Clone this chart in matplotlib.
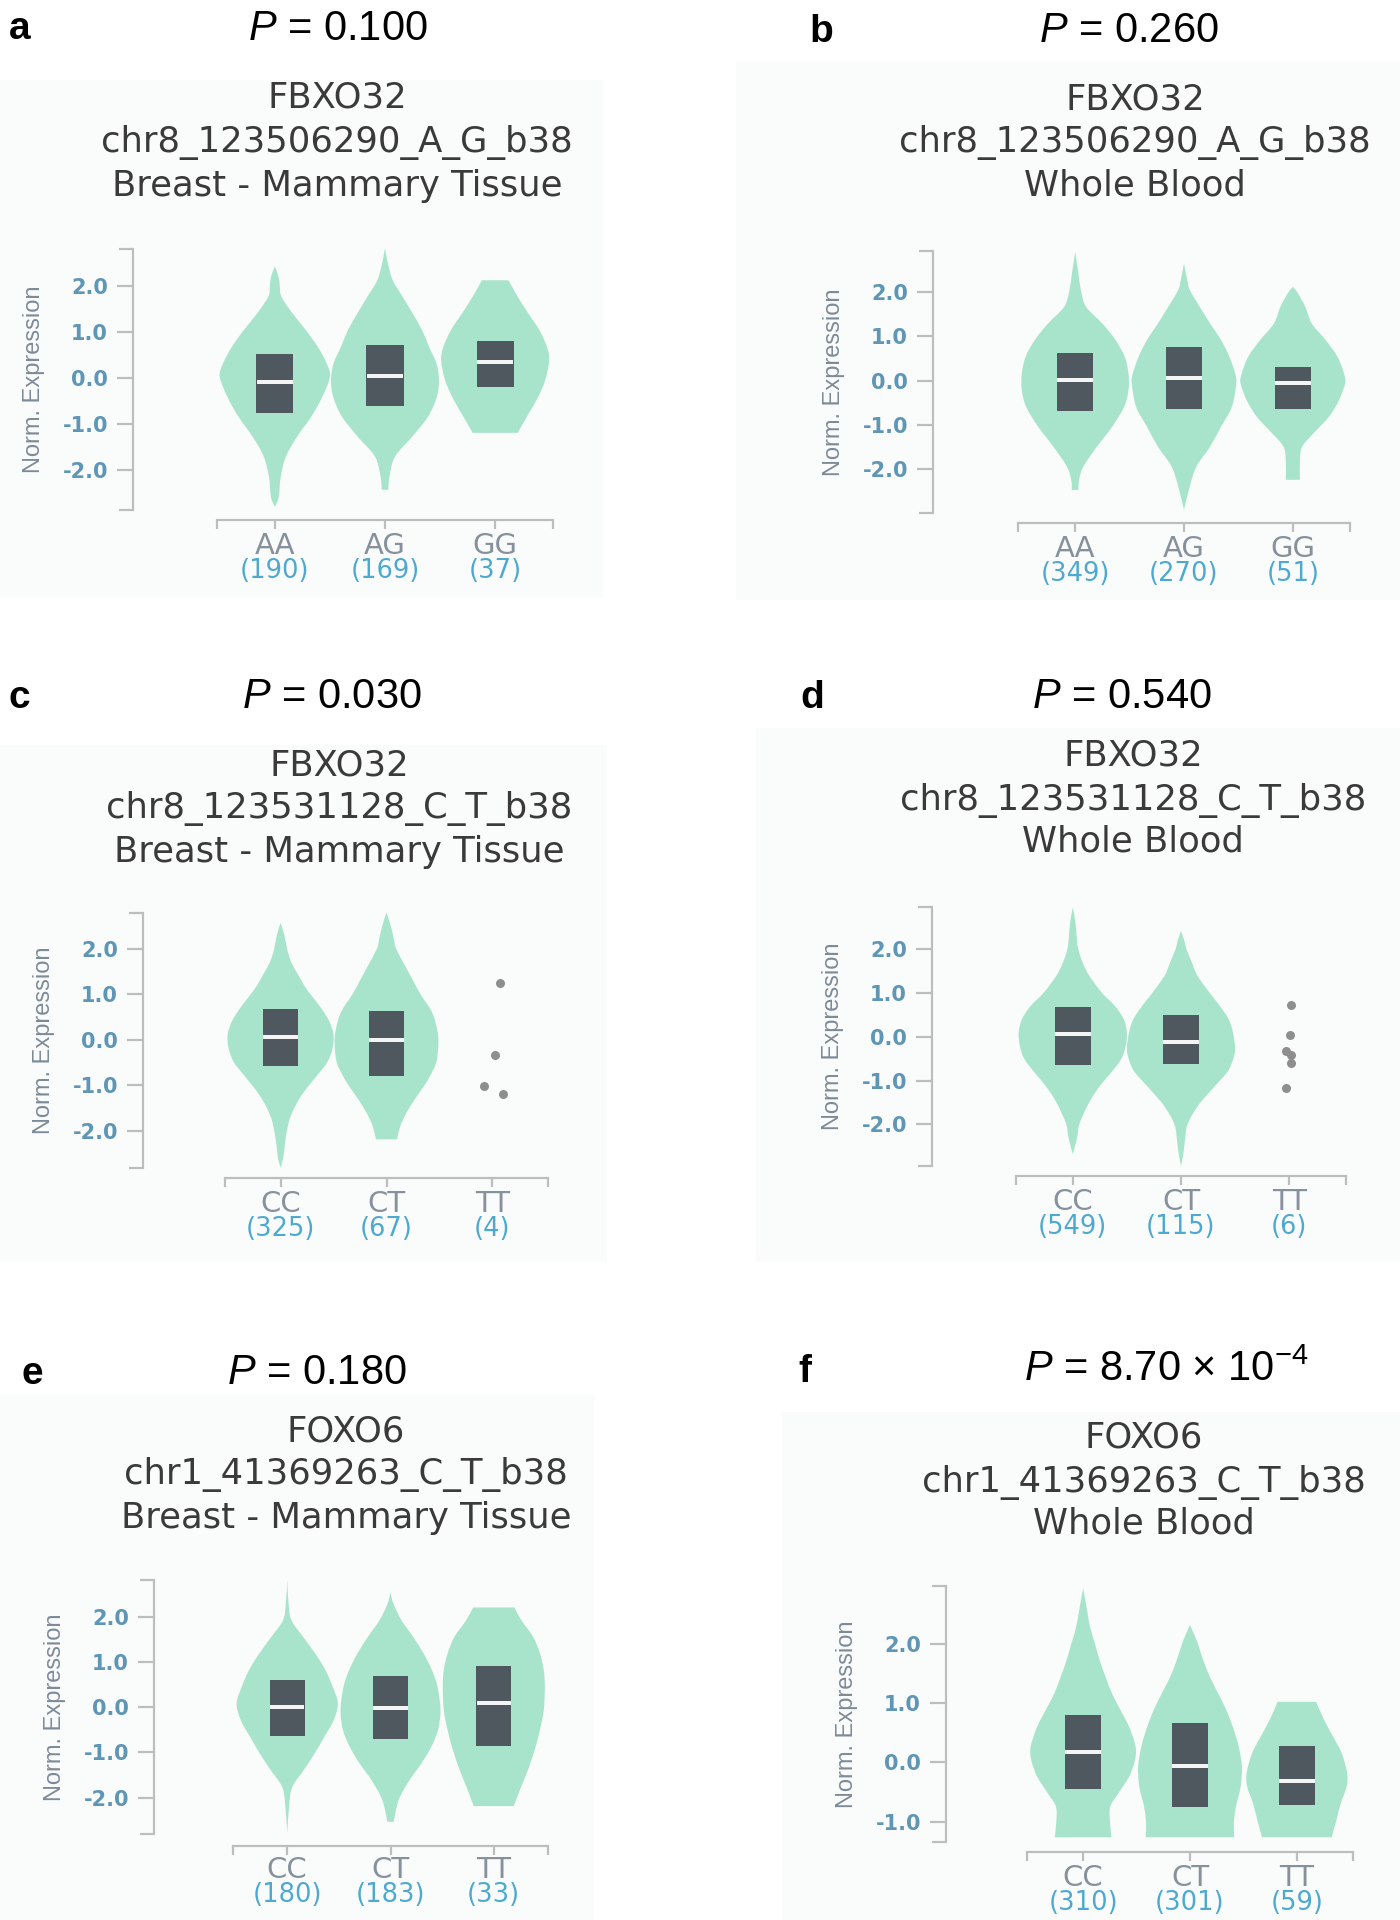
import matplotlib
matplotlib.use("Agg")
import matplotlib.pyplot as plt
from matplotlib.patches import Rectangle, PathPatch
from matplotlib.path import Path

# ---------------- values ----------------
panel_letters = ["a", "b", "c", "d", "e", "f"]
p_values = [r"$P$ = 0.100", r"$P$ = 0.260", r"$P$ = 0.030",
            r"$P$ = 0.540", r"$P$ = 0.180", r"$P$ = 8.70 × $10^{-4}$"]
genes = ["FBXO32", "FBXO32", "FBXO32", "FBXO32", "FOXO6", "FOXO6"]
variants = ["chr8_123506290_A_G_b38", "chr8_123506290_A_G_b38",
            "chr8_123531128_C_T_b38", "chr8_123531128_C_T_b38",
            "chr1_41369263_C_T_b38", "chr1_41369263_C_T_b38"]
tissues = ["Breast - Mammary Tissue", "Whole Blood"] * 3
genotypes = [["AA", "AG", "GG"], ["AA", "AG", "GG"], ["CC", "CT", "TT"],
             ["CC", "CT", "TT"], ["CC", "CT", "TT"], ["CC", "CT", "TT"]]
sample_counts = [[190, 169, 37], [349, 270, 51], [325, 67, 4],
                 [549, 115, 6], [180, 183, 33], [310, 301, 59]]

# box: lower quartile, median, upper quartile (None = no box drawn)
q1 = [[-0.755, -0.61, -0.20], [-0.68, -0.63, -0.63], [-0.59, -0.80, None],
      [-0.65, -0.63, None], [-0.63, -0.69, -0.85], [-0.45, -0.75, -0.71]]
med = [[-0.08, 0.05, 0.36], [0.01, 0.05, -0.05], [0.06, 0.00, None],
       [0.07, -0.11, None], [0.01, -0.02, 0.09], [0.17, -0.06, -0.31]]
q3 = [[0.52, 0.73, 0.81], [0.62, 0.75, 0.31], [0.68, 0.62, None],
      [0.68, 0.50, None], [0.62, 0.69, 0.92], [0.79, 0.66, 0.27]]

# violin outlines: (expression, half width in category units)
viol_a = [
    [(2.43, 0), (2.2, 0.035), (2.0, 0.045), (1.77, 0.06), (1.41, 0.16), (1.05, 0.28),
     (0.68, 0.39), (0.32, 0.47), (0.03, 0.5), (-0.41, 0.43), (-0.84, 0.33),
     (-1.28, 0.2), (-1.71, 0.1), (-2.15, 0.053), (-2.59, 0.035), (-2.8, 0)],
    [(2.83, 0), (2.5, 0.026), (2.13, 0.07), (1.77, 0.16), (1.41, 0.25), (1.05, 0.335),
     (0.68, 0.4), (0.32, 0.467), (-0.04, 0.49), (-0.41, 0.47), (-0.84, 0.39),
     (-1.28, 0.245), (-1.71, 0.09), (-2.15, 0.04), (-2.43, 0.03)],
    [(2.13, 0.12), (1.77, 0.205), (1.41, 0.3), (1.05, 0.4), (0.68, 0.47),
     (0.39, 0.49), (-0.04, 0.455), (-0.41, 0.39), (-0.77, 0.305), (-1.06, 0.235),
     (-1.19, 0.205)],
]
viol_b = [
    [(2.91, 0), (2.42, 0.03), (2.04, 0.053), (1.67, 0.1), (1.29, 0.25), (0.92, 0.37),
     (0.54, 0.455), (0.16, 0.49), (-0.21, 0.49), (-0.59, 0.45), (-1.04, 0.34),
     (-1.49, 0.2), (-1.94, 0.076), (-2.24, 0.036), (-2.47, 0.03)],
    [(2.65, 0), (2.27, 0.03), (2.05, 0.053), (1.67, 0.144), (1.29, 0.24), (0.92, 0.34),
     (0.54, 0.417), (0.16, 0.47), (-0.06, 0.48), (-0.59, 0.44), (-1.04, 0.34),
     (-1.49, 0.24), (-1.94, 0.114), (-2.39, 0.053), (-2.92, 0)],
    [(2.12, 0), (2.0, 0.04), (1.67, 0.114), (1.29, 0.174), (0.92, 0.3), (0.54, 0.41),
     (0.16, 0.47), (-0.06, 0.48), (-0.44, 0.424), (-0.81, 0.333), (-1.19, 0.19),
     (-1.49, 0.086), (-1.79, 0.065), (-2.24, 0.065)],
]
viol_c = [
    [(2.56, 0), (2.3, 0.035), (2.0, 0.06), (1.7, 0.1), (1.45, 0.16), (1.2, 0.22),
     (1.0, 0.28), (0.7, 0.38), (0.4, 0.46), (0.1, 0.5), (-0.2, 0.49), (-0.5, 0.44),
     (-0.8, 0.34), (-1.0, 0.27), (-1.25, 0.19), (-1.5, 0.13), (-1.75, 0.085),
     (-2.0, 0.06), (-2.3, 0.04), (-2.6, 0.025), (-2.81, 0)],
    [(2.79, 0), (2.5, 0.04), (2.2, 0.07), (2.0, 0.09), (1.6, 0.18), (1.3, 0.25),
     (1.0, 0.32), (0.6, 0.43), (0.2, 0.48), (-0.1, 0.49), (-0.5, 0.47), (-0.8, 0.41),
     (-1.0, 0.36), (-1.3, 0.27), (-1.6, 0.19), (-1.9, 0.13), (-2.19, 0.1)],
    None,
]
viol_d = [
    [(2.95, 0), (2.6, 0.025), (2.3, 0.035), (2.0, 0.05), (1.7, 0.09), (1.4, 0.15),
     (1.0, 0.27), (0.7, 0.39), (0.4, 0.47), (0.1, 0.5), (-0.2, 0.49), (-0.5, 0.45),
     (-0.8, 0.36), (-1.0, 0.29), (-1.3, 0.2), (-1.6, 0.13), (-2.0, 0.06),
     (-2.3, 0.04), (-2.68, 0)],
    [(2.41, 0), (2.2, 0.03), (2.0, 0.05), (1.7, 0.1), (1.4, 0.15), (1.0, 0.265),
     (0.7, 0.36), (0.4, 0.44), (0.1, 0.48), (-0.3, 0.5), (-0.6, 0.47), (-0.8, 0.43),
     (-1.0, 0.36), (-1.3, 0.25), (-1.6, 0.15), (-2.0, 0.06), (-2.4, 0.035),
     (-2.7, 0.02), (-2.95, 0)],
    None,
]
viol_e = [
    [(2.82, 0), (2.31, 0.013), (1.94, 0.04), (1.57, 0.153), (1.2, 0.27), (0.83, 0.37),
     (0.46, 0.44), (0.09, 0.49), (-0.28, 0.45), (-0.65, 0.36), (-1.02, 0.266),
     (-1.39, 0.16), (-1.76, 0.05), (-2.13, 0.02), (-2.79, 0)],
    [(2.56, 0), (2.31, 0.027), (1.94, 0.105), (1.57, 0.218), (1.2, 0.32), (0.83, 0.4),
     (0.46, 0.455), (-0.06, 0.484), (-0.5, 0.46), (-0.87, 0.395), (-1.24, 0.3),
     (-1.61, 0.185), (-2.05, 0.08), (-2.54, 0.03)],
    [(2.22, 0.2), (1.94, 0.266), (1.57, 0.38), (1.2, 0.447), (0.83, 0.484),
     (0.46, 0.494), (-0.06, 0.484), (-0.5, 0.447), (-0.95, 0.395), (-1.39, 0.33),
     (-1.83, 0.253), (-2.19, 0.194)],
]
viol_f = [
    [(2.93, 0), (2.56, 0.037), (2.28, 0.065), (2.0, 0.11), (1.72, 0.155), (1.44, 0.21),
     (1.16, 0.27), (0.88, 0.35), (0.6, 0.43), (0.27, 0.49), (0.04, 0.485),
     (-0.24, 0.43), (-0.52, 0.33), (-0.74, 0.255), (-0.97, 0.25), (-1.26, 0.265)],
    [(2.31, 0), (2.15, 0.04), (2.0, 0.073), (1.72, 0.124), (1.44, 0.186), (1.16, 0.264),
     (0.88, 0.34), (0.6, 0.4), (0.27, 0.455), (-0.07, 0.485), (-0.41, 0.474),
     (-0.74, 0.43), (-1.02, 0.41), (-1.26, 0.415)],
    [(1.02, 0.18), (0.71, 0.256), (0.43, 0.34), (0.15, 0.42), (-0.18, 0.47),
     (-0.41, 0.465), (-0.69, 0.41), (-0.97, 0.37), (-1.26, 0.326)],
]
violins = [viol_a, viol_b, viol_c, viol_d, viol_e, viol_f]

# single samples shown as dots (TT groups of panels c and d)
pts_c_y = [1.25, -0.34, -1.02, -1.2]
pts_c_dx = [0.07, 0.02, -0.08, 0.1]
pts_d_y = [0.73, 0.05, -0.33, -0.42, -0.6, -1.16]
pts_d_dx = [0.02, 0.01, -0.03, 0.02, 0.02, -0.03]
dots = [None, None, (pts_c_dx, pts_c_y), (pts_d_dx, pts_d_y), None, None]

y_ticks = [[-2, -1, 0, 1, 2]] * 5 + [[-1, 0, 1, 2]]
y_lims = [(-2.87, 2.81), (-2.99, 2.93), (-2.82, 2.78),
          (-2.95, 2.96), (-2.81, 2.83), (-1.34, 2.97)]

# ---------------- layout (pixels of the 1400x1920 canvas) ----------------
W, H = 1400, 1920
PT = 72 / 100.0          # points per pixel at dpi 100
# x-axis left end, right end, plot top, plot bottom, y-spine x, x-axis y
boxes = [(217, 553, 249, 510, 133, 520), (1018, 1350, 251, 513, 933, 523),
         (225, 548, 913, 1168, 143, 1178), (1016, 1346, 907, 1166, 932, 1176),
         (233, 548, 1580, 1834, 154, 1846), (1027, 1353, 1586, 1842, 946, 1852)]
backs = [(0, 80, 603, 598), (736, 62, 1400, 600), (0, 745, 607, 1262),
         (756, 728, 1400, 1262), (0, 1394, 594, 1920), (782, 1412, 1400, 1920)]
letter_xy = [(20, 29), (821, 32), (19, 698), (812, 698), (32, 1374), (805, 1372)]
pval_xy = [(338, 29), (1129, 31), (332, 697), (1122, 697), (317, 1373), (1166, 1370)]
title_x = [337, 1135, 339, 1133, 346, 1144]
title_y = [(97, 142, 186), (99, 142, 186), (765, 808, 852),
           (755, 800, 842), (1432, 1475, 1518), (1438, 1482, 1523)]

VIOLIN = "#a7e4cb"
BOX = "#4f585e"
AXIS = "#bdbdbd"
TICKTXT = "#5f96b6"
BG = "#fafbfb"

plt.rcParams["font.family"] = "DejaVu Sans"
plt.rcParams["mathtext.fontset"] = "custom"
plt.rcParams["mathtext.it"] = "Liberation Sans:italic"
plt.rcParams["mathtext.rm"] = "Liberation Sans"

fig = plt.figure(figsize=(W / 100, H / 100), dpi=100)


def fx(px):
    return px / W


def fy(py):
    return 1 - py / H


def curve(pts):
    # Catmull-Rom through the outline points, as cubic Bezier pieces
    out = []
    n = len(pts)
    for j in range(n - 1):
        p0 = pts[j - 1] if j > 0 else pts[j]
        p1, p2 = pts[j], pts[j + 1]
        p3 = pts[j + 2] if j + 2 < n else pts[j + 1]
        out.append((p1[0] + (p2[0] - p0[0]) / 6, p1[1] + (p2[1] - p0[1]) / 6))
        out.append((p2[0] - (p3[0] - p1[0]) / 6, p2[1] - (p3[1] - p1[1]) / 6))
        out.append(p2)
    return out


def violin_path(i, prof):
    right = [(i + w, y) for y, w in prof]
    left = [(i - w, y) for y, w in reversed(prof)]
    n = len(prof)
    verts = [right[0]] + curve(right) + [left[0]] + curve(left) + [right[0]]
    codes = ([Path.MOVETO] + [Path.CURVE4] * 3 * (n - 1) + [Path.LINETO]
             + [Path.CURVE4] * 3 * (n - 1) + [Path.CLOSEPOLY])
    return Path(verts, codes)


for k in range(6):
    x0, x1, ytop, ybot, yspine, xaxis = boxes[k]
    bx0, by0, bx1, by1 = backs[k]
    fig.patches.append(Rectangle((fx(bx0), fy(by1)), (bx1 - bx0) / W, (by1 - by0) / H,
                                 transform=fig.transFigure, facecolor=BG,
                                 edgecolor="none", zorder=-5))

    ax = fig.add_axes([fx(x0), fy(ybot), (x1 - x0) / W, (ybot - ytop) / H])
    ax.set_zorder(2)
    ax.patch.set_visible(False)
    ax.set_xlim(-0.525, 2.525)
    ax.set_ylim(*y_lims[k])

    for i, prof in enumerate(violins[k]):
        if prof is None:
            continue
        ax.add_patch(PathPatch(violin_path(i, prof), facecolor=VIOLIN,
                               edgecolor="none", zorder=2))
        if q1[k][i] is not None:
            ax.add_patch(Rectangle((i - 0.168, q1[k][i]), 0.336, q3[k][i] - q1[k][i],
                                   facecolor=BOX, edgecolor="none", zorder=3))
            ax.plot([i - 0.166, i + 0.166], [med[k][i], med[k][i]], color="#f4f4f4",
                    lw=4 * PT, solid_capstyle="butt", zorder=4)

    if dots[k] is not None:
        dx, dy = dots[k]
        ax.plot([2 + d for d in dx], dy, "o", ms=9 * PT, color="#8e8e8e",
                mec="none", zorder=3)

    for s in ["top", "right"]:
        ax.spines[s].set_visible(False)
    ax.spines["left"].set_position(("outward", (x0 - yspine) * PT))
    ax.spines["bottom"].set_position(("outward", (xaxis - ybot) * PT))
    for s in ["left", "bottom"]:
        ax.spines[s].set_color(AXIS)
        ax.spines[s].set_linewidth(2.2 * PT)

    ax.set_yticks(y_ticks[k], labels=[f"{t:.1f}" for t in y_ticks[k]])
    ax.set_yticks(list(y_lims[k]), minor=True)
    ax.tick_params(axis="y", which="major", length=16 * PT, width=2.2 * PT,
                   color=AXIS, pad=9 * PT, labelsize=15, labelcolor=TICKTXT)
    ax.tick_params(axis="y", which="minor", length=14 * PT, width=2.2 * PT, color=AXIS)
    for lab in ax.get_yticklabels():
        lab.set_fontweight("bold")

    ax.set_xticks([0, 1, 2], labels=["", "", ""])
    ax.set_xticks([-0.525, 2.525], minor=True)
    ax.tick_params(axis="x", which="both", length=9 * PT, width=2.2 * PT, color=AXIS)

    for i, (g, n) in enumerate(zip(genotypes[k], sample_counts[k])):
        ax.annotate(g, xy=(i, 0), xycoords=("data", "axes fraction"),
                    xytext=(0, -36 * PT), textcoords="offset points",
                    ha="center", va="center", fontsize=21, color="#86919c")
        ax.annotate(f"({n})", xy=(i, 0), xycoords=("data", "axes fraction"),
                    xytext=(0, -61 * PT), textcoords="offset points",
                    ha="center", va="center", fontsize=18.5, color="#4ea9d1")

    fig.text(fx(yspine - 99), fy((ytop + ybot) / 2), "Norm. Expression",
             rotation=90, ha="center", va="center", family="Liberation Sans",
             fontsize=17, color="#7d8b98")

    for line, ty in zip([genes[k], variants[k], tissues[k]], title_y[k]):
        fig.text(fx(title_x[k]), fy(ty), line, ha="center", va="center",
                 fontsize=25.5, color="#3a3a3a")

    fig.text(fx(pval_xy[k][0]), fy(pval_xy[k][1]), p_values[k], ha="center",
             va="center", family="Liberation Sans", fontsize=30, color="black")
    fig.text(fx(letter_xy[k][0]), fy(letter_xy[k][1]), panel_letters[k],
             ha="center", va="center", family="Liberation Sans",
             fontweight="bold", fontsize=28, color="black")

fig.savefig("out.png", dpi=100, facecolor="white")
